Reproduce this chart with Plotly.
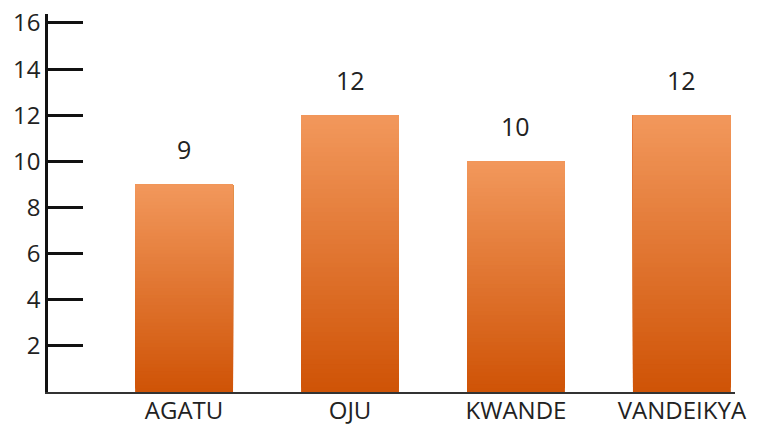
import plotly.graph_objects as go

categories = ["AGATU", "OJU", "KWANDE", "VANDEIKYA"]
values = [9, 12, 10, 12]
y_ticks = [2, 4, 6, 8, 10, 12, 14, 16]

TOP_RGB = (242, 152, 92)
BOT_RGB = (207, 83, 6)
N = 60  # gradient slices per bar

xs, ys, bases, cols = [], [], [], []
for i in range(N):
    t = (i + 0.5) / N  # 0 bottom -> 1 top
    r = round(BOT_RGB[0] + (TOP_RGB[0] - BOT_RGB[0]) * t)
    g = round(BOT_RGB[1] + (TOP_RGB[1] - BOT_RGB[1]) * t)
    b = round(BOT_RGB[2] + (TOP_RGB[2] - BOT_RGB[2]) * t)
    for k, v in enumerate(values):
        xs.append(k)
        bases.append(v * i / N)
        ys.append(v - v * i / N)  # each slice runs to the bar top; later slices cover earlier
        cols.append(f"rgb({r},{g},{b})")

fig = go.Figure()
fig.add_trace(go.Bar(
    x=xs, y=ys, base=bases,
    marker=dict(color=cols, line=dict(width=0)),
    width=0.59, hoverinfo="skip", showlegend=False,
))

FONT = "Open Sans, Noto Sans, sans-serif"
for k, v in enumerate(values):
    fig.add_annotation(
        x=k, y=v, text=str(v), showarrow=False,
        yanchor="bottom", yshift=16,
        font=dict(family=FONT, size=25, color="#222222"),
    )

fig.update_layout(
    width=771, height=427,
    margin=dict(l=48, r=36, t=14, b=35),
    paper_bgcolor="white", plot_bgcolor="white",
    barmode="overlay",
    xaxis=dict(
        range=[-0.82, 3.32], automargin=False,
        tickmode="array", tickvals=list(range(len(categories))), ticktext=categories,
        showgrid=False, zeroline=False,
        showline=True, linecolor="#333333", linewidth=2,
        ticks="", tickfont=dict(family=FONT, size=24, color="#222222"),
        ticklabelstandoff=-4,
        ticklabeloverflow="allow",
    ),
    yaxis=dict(
        range=[0, 16.39], automargin=False,
        tickmode="array", tickvals=y_ticks,
        showgrid=False, zeroline=False,
        showline=True, linecolor="#111111", linewidth=2.5,
        ticks="inside", ticklen=35, tickwidth=2.5, tickcolor="#111111",
        tickfont=dict(family=FONT, size=24, color="#222222"),
        ticklabeloverflow="allow",
    ),
)

fig.write_html(
    "out.html",
    config={"displayModeBar": False},
    post_script="document.body.style.margin='0px';",
)
